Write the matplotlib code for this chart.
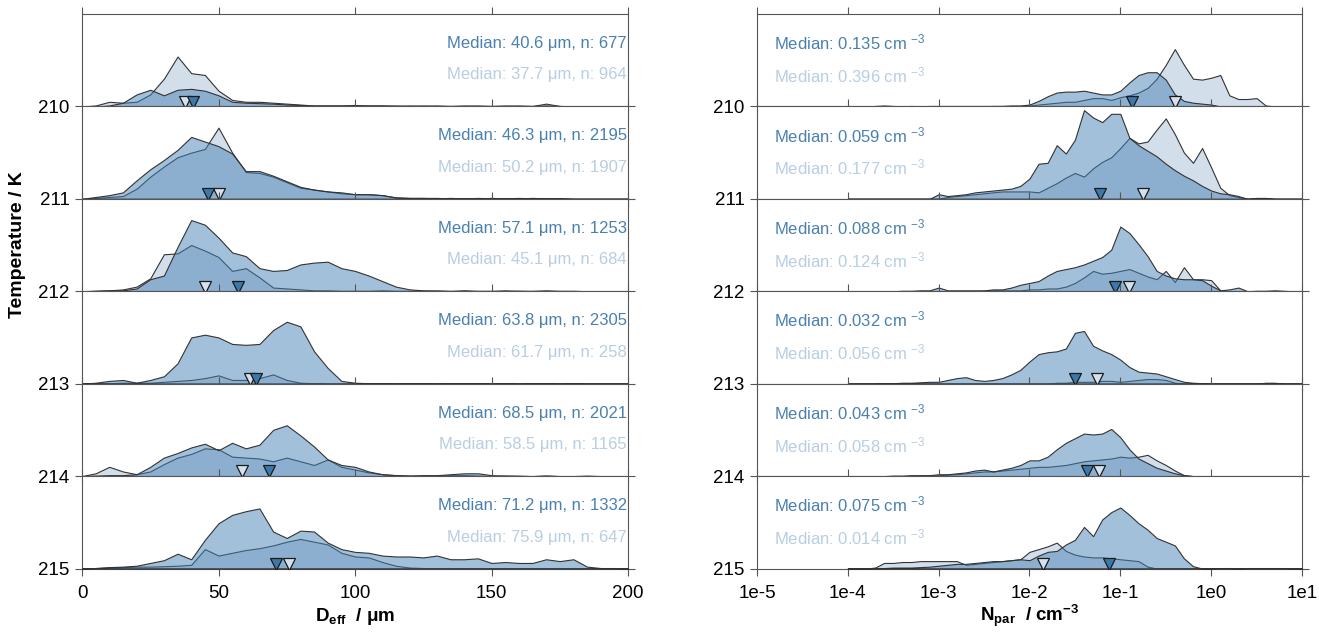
import numpy as np
import matplotlib
matplotlib.use("Agg")
import matplotlib.pyplot as plt
from matplotlib.ticker import NullLocator

plt.rcParams['font.family'] = ['Liberation Sans', 'DejaVu Sans']
plt.rcParams['mathtext.fontset'] = 'custom'
plt.rcParams['mathtext.rm'] = 'Liberation Sans'
plt.rcParams['mathtext.it'] = 'Liberation Sans:italic'
plt.rcParams['mathtext.bf'] = 'Liberation Sans:bold'

# ---------------------------------------------------------------- data
temperatures = [210, 211, 212, 213, 214, 215]

# effective diameter bins (um) and normalised frequencies per temperature
deff_bins = np.arange(0, 201, 5)

deff_dark_210 = [0, 0, .01, .04, .13, .18, .12, .18, .19, .17,
                 .12, .05, .04, .035, .03, .02, .015, .01, .01, .01,
                 .01, .01, .01, .01, .005, .01, .005, .005, .01, .005,
                 .005, .01, .005, .005, .01, .005, 0, 0, 0, 0, 0]
deff_light_210 = [0, .01, .05, .04, .05, .13, .30, .54, .36, .34,
                  .17, .07, .05, .05, .04, .03, .02, .01, .01, .01,
                  .015, .01, .01, .005, .01, .005, .01, .005, .005, .01,
                  .005, .005, .01, .005, .03, .005, 0, 0, 0, 0, 0]
deff_dark_211 = [0, .02, .04, .07, .20, .32, .42, .53, .67, .62,
                 .57, .49, .30, .30, .25, .19, .13, .10, .08, .07,
                 .05, .05, .04, .015, .01, .01, .01, .005, .005, .01,
                 .005, .005, .01, .005, .005, .005, 0, 0, 0, 0, 0]
deff_light_211 = [0, .01, .02, .03, .11, .24, .35, .45, .50, .54,
                  .77, .50, .29, .28, .24, .18, .12, .10, .08, .06,
                  .05, .05, .04, .015, .01, .01, .005, .01, .005, .005,
                  .01, .005, .005, .01, .005, .005, 0, 0, 0, 0, 0]
deff_dark_212 = [0, .005, .01, .01, .03, .13, .17, .48, .77, .72,
                 .58, .42, .38, .25, .22, .23, .29, .31, .32, .25,
                 .22, .17, .11, .05, .02, .01, .01, .005, .01, .005,
                 .005, .01, .005, .005, .01, .005, .005, 0, 0, 0, 0]
deff_light_212 = [0, .005, .01, .02, .05, .14, .40, .41, .50, .44,
                  .37, .22, .25, .15, .04, .03, .02, .01, .01, .005,
                  .005, .005, .01, .005, .005, .005, 0, 0, .005, 0,
                  0, 0, .005, 0, 0, 0, 0, 0, 0, 0, 0]
deff_dark_213 = [0, .01, .03, .04, .01, .04, .08, .22, .50, .53,
                 .50, .43, .42, .43, .58, .67, .62, .35, .17, .03,
                 .01, .005, .005, 0, .005, .005, 0, .005, .005, .005,
                 0, .005, 0, .005, .005, 0, .005, 0, 0, 0, 0]
deff_light_213 = [0, 0, .005, .01, .01, .01, .02, .03, .04, .06,
                  .09, .04, .04, .06, .10, .04, .01, .005, 0, 0,
                  0, 0, 0, 0, 0, 0, 0, 0, 0, 0,
                  0, 0, 0, 0, 0, 0, 0, 0, 0, 0, 0]
deff_dark_214 = [0, .005, .01, .01, .02, .10, .20, .25, .31, .35,
                 .28, .36, .30, .34, .50, .55, .44, .32, .18, .12,
                 .10, .05, .02, .01, .005, .01, .01, .02, .03, .03,
                 .01, .005, .005, 0, .005, 0, 0, .005, 0, 0, 0]
deff_light_214 = [0, .03, .10, .05, .02, .05, .13, .20, .24, .30,
                  .29, .21, .20, .19, .16, .20, .16, .12, .18, .10,
                  .07, .04, .02, .01, .005, .005, .005, .01, .01, .005,
                  0, .005, 0, 0, .005, 0, 0, 0, 0, 0, 0]
deff_dark_215 = [0, .005, .015, .02, .03, .06, .09, .16, .10, .31,
                 .49, .58, .62, .65, .40, .33, .41, .40, .28, .21,
                 .18, .17, .14, .13, .13, .12, .14, .10, .10, .11,
                 .06, .07, .06, .06, .10, .08, .10, .02, .005, .005, 0]
deff_light_215 = [0, .005, .01, .015, .02, .02, .025, .03, .04, .21,
                  .14, .17, .20, .22, .25, .29, .32, .29, .26, .17,
                  .13, .12, .07, .03, .01, .005, 0, 0, 0, 0,
                  0, 0, 0, 0, 0, 0, 0, 0, 0, 0, 0]

# number-concentration bins (log10 cm^-3) and normalised frequencies
npar_exp = np.round(np.arange(-4.0, 1.01, 0.1), 1)

npar_dark_210 = [0, 0, 0, .005, .01, .005, 0, .005, 0, .005,
                 .005, .005, .005, .005, .005, .005, .005, .005, .01, .01,
                 .02, .06, .11, .15, .16, .16, .17, .15, .13, .13,
                 .17, .26, .34, .37, .37, .29, .13, .06, .04, .03,
                 .02, 0, 0, 0, 0, 0, 0, 0, 0, 0, 0]
npar_light_210 = [0, 0, 0, 0, 0, 0, 0, 0, 0, 0,
                  0, 0, 0, 0, 0, 0, .005, .005, .005, .005,
                  .01, .02, .03, .04, .05, .05, .07, .09, .09, .07,
                  .10, .12, .15, .20, .30, .45, .62, .45, .30, .29,
                  .31, .34, .12, .08, .08, .09, .01, 0, 0, 0, 0]
npar_dark_211 = [0, 0, 0, 0, 0, 0, 0, 0, 0, 0,
                 .05, .03, .04, .05, .07, .08, .09, .10, .11, .14,
                 .22, .38, .39, .58, .49, .64, .96, .88, .83, .92,
                 .92, .66, .58, .52, .46, .38, .31, .25, .20, .14,
                 .09, .06, .05, .03, 0, .005, .005, 0, 0, 0, 0]
npar_light_211 = [0, 0, 0, 0, 0, 0, 0, 0, 0, 0,
                  0, .02, .03, .04, .05, .06, .07, .08, .08, .08,
                  .08, .07, .12, .17, .23, .28, .24, .33, .40, .45,
                  .55, .66, .60, .62, .75, .87, .70, .50, .39, .55,
                  .34, .12, .04, .02, 0, .01, .01, 0, 0, 0, 0]
npar_dark_212 = [0, 0, 0, 0, 0, 0, .005, .005, .01, .01,
                 .04, .01, .01, .01, .01, .01, .02, .02, .04, .07,
                 .09, .11, .17, .22, .24, .26, .29, .33, .37, .45,
                 .70, .63, .51, .38, .22, .17, .14, .13, .13, .12,
                 .06, .01, .02, .04, 0, .005, .005, .01, .005, 0, 0]
npar_light_212 = [0, 0, 0, 0, 0, 0, 0, 0, 0, 0,
                  0, 0, 0, 0, 0, .005, .01, .01, .01, .01,
                  .02, .02, .03, .03, .05, .09, .15, .22, .19, .20,
                  .22, .24, .20, .16, .13, .22, .10, .26, .13, .13,
                  .12, .01, 0, 0, 0, 0, 0, 0, 0, 0, 0]
npar_dark_213 = [0, 0, 0, 0, .005, .005, .01, .01, .015, .02,
                 .02, .04, .06, .07, .04, .03, .04, .06, .10, .15,
                 .24, .32, .34, .35, .38, .55, .57, .41, .36, .32,
                 .26, .18, .13, .12, .11, .08, .05, .02, .01, .005,
                 0, 0, 0, 0, 0, 0, .01, .01, 0, 0, 0]
npar_light_213 = [0, 0, 0, 0, 0, 0, 0, 0, 0, 0,
                  0, 0, 0, 0, 0, 0, 0, 0, 0, 0,
                  0, 0, 0, .01, .01, .02, .02, .02, .03, .03,
                  .02, .03, .04, .05, .05, .04, .01, 0, 0, 0,
                  0, 0, 0, 0, 0, 0, 0, 0, 0, 0, 0]
npar_dark_214 = [0, 0, 0, 0, 0, .005, .005, .01, .01, .01,
                 .02, .02, .03, .04, .06, .07, .05, .07, .09, .12,
                 .17, .17, .21, .29, .36, .41, .46, .45, .46, .51,
                 .42, .29, .19, .14, .09, .06, .03, .01, 0, 0,
                 0, 0, 0, 0, 0, 0, 0, 0, 0, 0, 0]
npar_light_214 = [0, 0, 0, 0, 0, 0, 0, 0, 0, .005,
                  .01, .015, .02, .03, .04, .05, .05, .06, .07, .08,
                  .09, .10, .10, .11, .12, .14, .16, .17, .18, .19,
                  .21, .20, .21, .23, .17, .12, .06, .01, 0, 0,
                  0, 0, 0, 0, 0, 0, 0, 0, 0, 0, 0]
npar_dark_215 = [0, 0, 0, .005, .005, .01, .01, .01, .015, .02,
                 .03, .04, .05, .05, .06, .07, .08, .08, .09, .10,
                 .09, .14, .18, .19, .26, .31, .45, .35, .53, .61,
                 .66, .58, .49, .42, .33, .29, .25, .11, .025, 0,
                 0, .005, .005, 0, .005, .005, .005, .005, .005, 0, 0]
npar_light_215 = [0, 0, 0, .01, .06, .06, .07, .07, .08, .08,
                  .08, .08, .08, .04, .05, .06, .07, .08, .09, .10,
                  .18, .21, .24, .28, .19, .15, .13, .12, .12, .11,
                  .10, .09, .08, .02, 0, 0, 0, 0, 0, 0,
                  0, 0, 0, 0, 0, 0, 0, 0, 0, 0, 0]

deff_dark = [deff_dark_210, deff_dark_211, deff_dark_212,
             deff_dark_213, deff_dark_214, deff_dark_215]
deff_light = [deff_light_210, deff_light_211, deff_light_212,
              deff_light_213, deff_light_214, deff_light_215]
npar_dark = [npar_dark_210, npar_dark_211, npar_dark_212,
             npar_dark_213, npar_dark_214, npar_dark_215]
npar_light = [npar_light_210, npar_light_211, npar_light_212,
              npar_light_213, npar_light_214, npar_light_215]

deff_median_dark = [40.6, 46.3, 57.1, 63.8, 68.5, 71.2]
deff_count_dark = [677, 2195, 1253, 2305, 2021, 1332]
deff_median_light = [37.7, 50.2, 45.1, 61.7, 58.5, 75.9]
deff_count_light = [964, 1907, 684, 258, 1165, 647]
npar_median_dark = [0.135, 0.059, 0.088, 0.032, 0.043, 0.075]
npar_median_light = [0.396, 0.177, 0.124, 0.056, 0.058, 0.014]

deff_ticks = [0, 50, 100, 150, 200]
npar_ticks = [1e-5, 1e-4, 1e-3, 1e-2, 1e-1, 1e0, 1e1]
npar_ticklabels = ['1e-5', '1e-4', '1e-3', '1e-2', '1e-1', '1e0', '1e1']

# ---------------------------------------------------------------- style
dark_fill = (0.275, 0.51, 0.706, 0.5)
light_fill = (0.66, 0.75, 0.85, 0.5)
edge_col = '#333333'
axis_col = '#555555'
dark_text = '#4a80b0'
light_text = '#b9cde3'
dark_marker = '#3d78aa'
light_marker = '#d6e1ee'

W, H = 1319, 636
fig = plt.figure(figsize=(W / 100, H / 100), dpi=100)

top_px = 14
row_px = (568.5 - top_px) / 6
columns = [(82, 546), (757, 545)]


def style_row(ax, is_last, label):
    for sp in ax.spines.values():
        sp.set_color(axis_col)
        sp.set_linewidth(0.8)
    ax.set_ylim(0, 1)
    ax.set_yticks([0])
    ax.set_yticklabels([label])
    ax.tick_params(axis='y', direction='out', left=True, right=True,
                   length=5, width=0.8, color=axis_col, labelsize=13.5,
                   pad=4)
    ax.tick_params(axis='x', which='major', direction='out', top=True,
                   bottom=True, length=5, width=0.8, color=axis_col,
                   labelbottom=is_last, labelsize=13.5, pad=7)
    ax.tick_params(axis='x', which='minor', top=False, bottom=False)


for col, (x0, w) in enumerate(columns):
    for i, temp in enumerate(temperatures):
        bottom_px = top_px + (i + 1) * row_px
        ax = fig.add_axes([x0 / W, 1 - bottom_px / H, w / W, row_px / H])
        ax.set_zorder(i + 1)
        is_last = i == len(temperatures) - 1

        if col == 0:
            x = deff_bins
            light, dark = deff_light[i], deff_dark[i]
            m_dark, m_light = deff_median_dark[i], deff_median_light[i]
        else:
            x = 10.0 ** npar_exp
            light, dark = npar_light[i], npar_dark[i]
            m_dark, m_light = npar_median_dark[i], npar_median_light[i]
            ax.set_xscale('log')

        ax.fill_between(x, 0, light, facecolor=light_fill,
                        edgecolor=edge_col, linewidth=0.8, zorder=2)
        ax.fill_between(x, 0, dark, facecolor=dark_fill,
                        edgecolor=edge_col, linewidth=0.8, zorder=3)

        ax.plot([m_light], [0.05], marker='v', ms=8, mfc=light_marker,
                mec='#1a1a1a', mew=0.9, ls='none', zorder=5)
        ax.plot([m_dark], [0.05], marker='v', ms=8, mfc=dark_marker,
                mec='#1a1a1a', mew=0.9, ls='none', zorder=6)

        if col == 0:
            ax.set_xlim(0, 200)
            ax.set_xticks(deff_ticks)
            ax.text(0.998, 0.68,
                    f'Median: {m_dark:.1f} \u03bcm, n: {deff_count_dark[i]}',
                    transform=ax.transAxes, ha='right', va='center',
                    color=dark_text, fontsize=12, zorder=7)
            ax.text(0.998, 0.34,
                    f'Median: {m_light:.1f} \u03bcm, n: {deff_count_light[i]}',
                    transform=ax.transAxes, ha='right', va='center',
                    color=light_text, fontsize=12, zorder=7)
        else:
            ax.set_xlim(1e-5, 1e1)
            ax.set_xticks(npar_ticks)
            ax.set_xticklabels(npar_ticklabels)
            ax.xaxis.set_minor_locator(NullLocator())
            ax.text(0.032, 0.615, f'Median: {m_dark:.3f} cm $^{{-3}}$',
                    transform=ax.transAxes, ha='left', va='baseline',
                    color=dark_text, fontsize=12, zorder=7)
            ax.text(0.032, 0.26, f'Median: {m_light:.3f} cm $^{{-3}}$',
                    transform=ax.transAxes, ha='left', va='baseline',
                    color=light_text, fontsize=12, zorder=7)

        style_row(ax, is_last, str(temp))

fig.text(18 / W, 1 - 245 / H, 'Temperature / K', rotation=90,
         ha='center', va='center', fontsize=14, fontweight='bold')
fig.text((82 + 546 / 2) / W, 1 - 621 / H,
         '$\\mathbf{D}_{\\mathbf{eff}}$  / \u03bcm',
         ha='center', va='baseline', fontsize=13.5, fontweight='bold')
fig.text((757 + 545 / 2) / W, 1 - 621 / H,
         r'$\mathbf{N}_{\mathbf{par}}$  / cm$^{\mathbf{-3}}$',
         ha='center', va='baseline', fontsize=13.5, fontweight='bold')

fig.savefig('out.png', dpi=100)
